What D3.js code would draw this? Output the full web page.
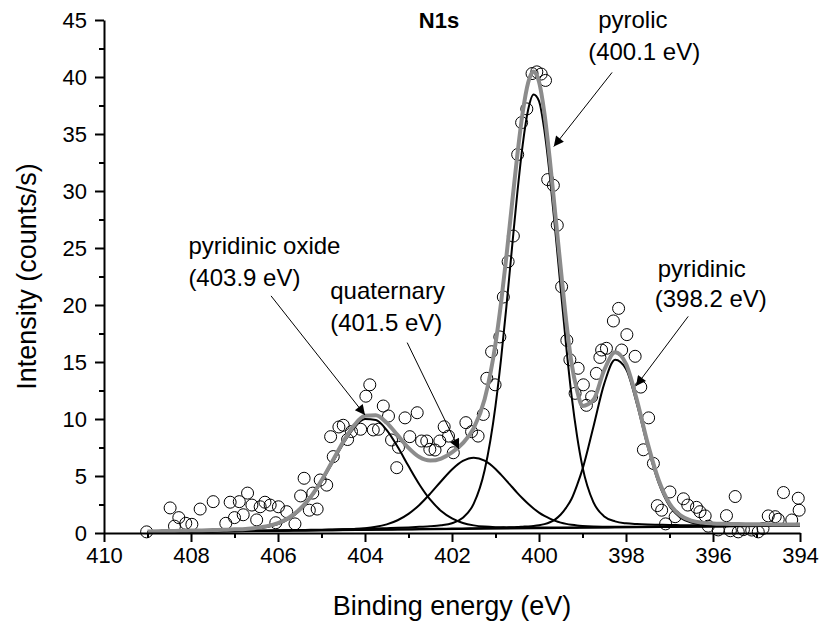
<!DOCTYPE html>
<html>
<head>
<meta charset="utf-8">
<script src="https://cdn.jsdelivr.net/npm/d3@7"></script>
<style>
  html, body { margin: 0; padding: 0; background: #ffffff; }
  svg { display: block; }
  text { font-family: "Liberation Sans", Arial, sans-serif; fill: #000; }
</style>
</head>
<body>
<div id="chart"></div>
<script>
// ---------------- data ----------------
const xTicksMajor = [410, 408, 406, 404, 402, 400, 398, 396, 394];
const xTicksMinor = [409, 407, 405, 403, 401, 399, 397, 395];
const yTicksMajor = [0, 5, 10, 15, 20, 25, 30, 35, 40, 45];
const yTicksMinor = [2.5, 7.5, 12.5, 17.5, 22.5, 27.5, 32.5, 37.5, 42.5];

// fit curves sampled on a binding-energy grid (eV)
const energyGrid = [409, 408.75, 408.5, 408.25, 408, 407.75, 407.5, 407.25, 407, 406.75, 406.5, 406.25, 406,
  405.75, 405.5, 405.25, 405, 404.75, 404.5, 404.25, 404, 403.75, 403.5, 403.25, 403, 402.75, 402.5, 402.25,
  402, 401.75, 401.5, 401.25, 401, 400.875, 400.75, 400.625, 400.5, 400.375, 400.25, 400.125, 400, 399.875,
  399.75, 399.625, 399.5, 399.375, 399.25, 399.125, 399, 398.75, 398.5, 398.25, 398, 397.75, 397.5, 397.25,
  397, 396.75, 396.5, 396.25, 396, 395.75, 395.5, 395.25, 395, 394.75, 394.5, 394.25, 394];

const oxideFit = [0.11, 0.12, 0.13, 0.15, 0.16, 0.18, 0.20, 0.22, 0.25, 0.30, 0.38, 0.52, 0.78,
  1.24, 1.98, 3.06, 4.48, 6.15, 7.84, 9.23, 9.99, 9.92, 9.02, 7.56, 5.87, 4.26, 2.92, 1.93,
  1.28, 0.88, 0.67, 0.56, 0.51, 0.50, 0.49, 0.48, 0.48, 0.48, 0.48, 0.48, 0.48, 0.48,
  0.48, 0.48, 0.49, 0.49, 0.49, 0.49, 0.50, 0.50, 0.51, 0.52, 0.52, 0.53, 0.54, 0.55,
  0.55, 0.56, 0.57, 0.58, 0.59, 0.60, 0.61, 0.62, 0.62, 0.63, 0.64, 0.65, 0.66];

const quaternaryFit = [0.08, 0.09, 0.10, 0.11, 0.12, 0.13, 0.15, 0.16, 0.17, 0.18, 0.19, 0.20, 0.22,
  0.23, 0.24, 0.26, 0.27, 0.29, 0.32, 0.36, 0.42, 0.54, 0.76, 1.12, 1.68, 2.46, 3.45, 4.54,
  5.57, 6.32, 6.61, 6.34, 5.61, 5.12, 4.60, 4.06, 3.52, 3.02, 2.56, 2.15, 1.79, 1.50,
  1.26, 1.06, 0.91, 0.80, 0.72, 0.66, 0.62, 0.57, 0.55, 0.54, 0.54, 0.55, 0.55, 0.56,
  0.56, 0.57, 0.58, 0.59, 0.59, 0.60, 0.61, 0.62, 0.63, 0.63, 0.64, 0.65, 0.66];

const pyrolicFit = [0.09, 0.10, 0.11, 0.12, 0.14, 0.15, 0.16, 0.17, 0.18, 0.19, 0.21, 0.22, 0.23,
  0.25, 0.26, 0.28, 0.29, 0.31, 0.33, 0.35, 0.37, 0.39, 0.42, 0.45, 0.49, 0.54, 0.59, 0.68,
  0.86, 1.33, 2.57, 5.50, 11.16, 15.17, 19.83, 24.84, 29.77, 34.05, 37.12, 38.47, 37.89, 35.30,
  31.30, 26.50, 21.40, 16.40, 12.00, 8.50, 5.80, 2.70, 1.45, 1.02, 0.85, 0.78, 0.74, 0.72,
  0.70, 0.69, 0.68, 0.67, 0.67, 0.67, 0.67, 0.67, 0.67, 0.68, 0.68, 0.69, 0.69];

const pyridinicFit = [0.08, 0.09, 0.10, 0.11, 0.12, 0.13, 0.14, 0.15, 0.16, 0.17, 0.18, 0.19, 0.20,
  0.21, 0.22, 0.23, 0.24, 0.25, 0.26, 0.27, 0.28, 0.30, 0.31, 0.32, 0.33, 0.34, 0.36, 0.37,
  0.39, 0.40, 0.42, 0.44, 0.46, 0.47, 0.49, 0.50, 0.52, 0.55, 0.58, 0.62, 0.68, 0.78,
  0.94, 1.20, 1.62, 2.22, 3.00, 4.20, 5.60, 9.30, 13.10, 15.20, 14.39, 11.32, 7.55, 4.40,
  2.38, 1.35, 0.92, 0.76, 0.71, 0.69, 0.68, 0.68, 0.67, 0.68, 0.68, 0.68, 0.69];

const envelopeFit = [0.14, 0.16, 0.18, 0.19, 0.21, 0.23, 0.26, 0.28, 0.32, 0.36, 0.45, 0.60, 0.87,
  1.34, 2.08, 3.17, 4.61, 6.30, 8.01, 9.44, 10.28, 10.33, 9.66, 8.58, 7.47, 6.66, 6.35, 6.53,
  7.07, 7.88, 9.19, 11.73, 16.60, 20.11, 24.23, 28.70, 33.10, 36.89, 39.50, 40.48, 39.58, 36.80,
  32.70, 27.95, 23.20, 18.60, 14.86, 12.50, 11.14, 11.67, 14.30, 15.85, 14.83, 11.67, 7.84, 4.65,
  2.59, 1.54, 1.09, 0.91, 0.84, 0.81, 0.79, 0.77, 0.76, 0.76, 0.75, 0.75, 0.75];

const baselineEnergy = [409, 394];
const baselineValue = [0.07, 0.65];

// measured points
const pointEnergy = [409.02, 408.48, 408.38, 408.28, 408.12, 407.98, 407.79, 407.49, 407.20, 407.10,
  407.00, 406.89, 406.80, 406.70, 406.60, 406.49, 406.41, 406.30, 406.18, 406.05, 405.99, 405.80,
  405.61, 405.48, 405.40, 405.28, 405.20, 405.10, 405.03, 404.88, 404.79, 404.73, 404.60, 404.50,
  404.40, 404.31, 404.10, 403.98, 403.89, 403.81, 403.69, 403.58, 403.46, 403.39, 403.27, 403.23,
  403.08, 402.97, 402.80, 402.70, 402.58, 402.51, 402.39, 402.28, 402.18, 402.08, 401.97, 401.68,
  401.55, 401.40, 401.28, 401.20, 401.09, 401.01, 400.90, 400.82, 400.71, 400.59, 400.49, 400.40,
  400.28, 400.16, 400.05, 399.95, 399.85, 399.80, 399.67, 399.58, 399.48, 399.36, 399.29, 399.17,
  399.10, 398.98, 398.91, 398.79, 398.68, 398.60, 398.56, 398.45, 398.29, 398.17, 398.10, 397.98,
  397.79, 397.66, 397.60, 397.48, 397.37, 397.28, 397.18, 397.09, 396.99, 396.87, 396.68, 396.58,
  396.38, 396.30, 396.18, 396.11, 395.88, 395.69, 395.60, 395.49, 395.42, 395.30, 395.11, 394.96,
  394.85, 394.73, 394.57, 394.50, 394.38, 394.19, 394.04, 394.02];
const pointIntensity = [0.10, 2.20, 0.60, 1.35, 0.85, 0.76, 2.10, 2.75, 0.85, 2.70,
  1.35, 2.75, 1.60, 3.50, 2.45, 1.15, 2.30, 2.70, 2.45, 0.90, 2.30, 1.87,
  0.80, 3.25, 4.80, 2.00, 3.50, 2.10, 4.65, 4.20, 8.45, 6.70, 9.30, 9.45,
  8.20, 8.90, 9.10, 12.00, 13.00, 9.04, 9.10, 11.14, 10.26, 8.16, 5.73, 7.52,
  10.10, 8.45, 10.55, 8.07, 8.07, 7.34, 7.28, 8.07, 9.32, 8.50, 7.04, 9.68,
  8.89, 8.50, 10.40, 13.57, 15.90, 13.00, 17.20, 20.70, 23.80, 26.05, 33.20, 36.00,
  37.20, 40.30, 40.45, 40.26, 39.70, 31.00, 30.50, 27.00, 21.60, 16.90, 15.20, 12.25,
  14.45, 13.00, 11.20, 11.95, 14.00, 15.40, 16.05, 16.20, 18.60, 19.70, 16.05, 17.40,
  15.50, 12.80, 7.30, 10.10, 6.10, 2.40, 2.00, 0.80, 3.60, 1.43, 3.00, 2.45,
  2.25, 1.87, 1.50, 0.60, 0.27, 1.52, 0.20, 3.20, 0.10, 0.30, 0.26, 0.10,
  0.40, 1.50, 1.43, 1.20, 3.55, 1.14, 3.05, 2.00];

// annotations: label lines, text anchor (eV, counts) and arrow (from -> to) in data units
const annotations = [
  { lines: ["pyrolic", "(400.1 eV)"], textAt: [[398.64, 44.3], [398.87, 41.5]], from: [398.32, 40.4], to: [399.66, 33.9] },
  { lines: ["pyridinic", "(398.2 eV)"], textAt: [[397.27, 22.5], [397.34, 19.8]], from: [396.57, 19.0], to: [397.77, 12.9] },
  { lines: ["quaternary", "(401.5 eV)"], textAt: [[404.8, 20.5], [404.8, 17.7]], from: [403.03, 16.7], to: [401.84, 7.37] },
  { lines: ["pyridinic oxide", "(403.9 eV)"], textAt: [[408.06, 24.5], [408.06, 21.7]], from: [406.16, 20.8], to: [404.0, 10.35] }
];

// ---------------- chart ----------------
const W = 823, H = 626;
const margin = { left: 104, right: 23, top: 20, bottom: 93 };

const svg = d3.select("#chart").append("svg").attr("width", W).attr("height", H);

const x = d3.scaleLinear().domain([410, 394]).range([margin.left, W - margin.right]);
const y = d3.scaleLinear().domain([0, 45]).range([H - margin.bottom, margin.top]);

svg.append("defs").append("marker")
  .attr("id", "arrow").attr("viewBox", "0 0 10 10").attr("refX", 10).attr("refY", 5)
  .attr("markerWidth", 14).attr("markerHeight", 10).attr("markerUnits", "userSpaceOnUse")
  .attr("orient", "auto")
  .append("path").attr("d", "M0,0 L10,5 L0,10 Z").attr("fill", "#000");

// measured points (open circles)
svg.append("g").selectAll("circle")
  .data(pointEnergy.map((e, i) => [e, pointIntensity[i]]))
  .join("circle")
  .attr("cx", d => x(d[0])).attr("cy", d => y(d[1])).attr("r", 6)
  .attr("fill", "none").attr("stroke", "#000").attr("stroke-width", 1);

const line = d3.line().x(d => x(d[0])).y(d => y(d[1])).curve(d3.curveMonotoneX);

// baseline
svg.append("path")
  .attr("d", line(baselineEnergy.map((e, i) => [e, baselineValue[i]])))
  .attr("fill", "none").attr("stroke", "#000").attr("stroke-width", 2);

// components
[oxideFit, quaternaryFit, pyrolicFit, pyridinicFit].forEach(series => {
  svg.append("path")
    .attr("d", line(energyGrid.map((e, i) => [e, series[i]])))
    .attr("fill", "none").attr("stroke", "#000").attr("stroke-width", 2);
});

// envelope
svg.append("path")
  .attr("d", line(energyGrid.map((e, i) => [e, envelopeFit[i]])))
  .attr("fill", "none").attr("stroke", "#8c8c8c").attr("stroke-width", 4)
  .attr("stroke-linejoin", "round");

// axes
const gx = svg.append("g").attr("transform", `translate(0,${y(0)})`);
gx.call(d3.axisBottom(x).tickValues(xTicksMajor).tickSize(9).tickSizeOuter(0).tickPadding(5)
  .tickFormat(d3.format("d")));
const gxm = svg.append("g").attr("transform", `translate(0,${y(0)})`);
gxm.call(d3.axisBottom(x).tickValues(xTicksMinor).tickSize(5).tickSizeOuter(0).tickFormat(""));
gxm.select(".domain").remove();

const gy = svg.append("g").attr("transform", `translate(${x(410)},0)`);
gy.call(d3.axisLeft(y).tickValues(yTicksMajor).tickSize(9).tickSizeOuter(0).tickPadding(8)
  .tickFormat(d3.format("d")));
const gym = svg.append("g").attr("transform", `translate(${x(410)},0)`);
gym.call(d3.axisLeft(y).tickValues(yTicksMinor).tickSize(5).tickSizeOuter(0).tickFormat(""));
gym.select(".domain").remove();

svg.selectAll(".domain").attr("stroke", "#000").attr("stroke-width", 2);
svg.selectAll(".tick line").attr("stroke", "#000").attr("stroke-width", 2);
svg.selectAll(".tick text").attr("font-size", 22).attr("font-family", "Liberation Sans, Arial, sans-serif").attr("fill", "#000");

// axis titles
svg.append("text").attr("x", x(402)).attr("y", 615).attr("text-anchor", "middle")
  .attr("font-size", 27).text("Binding energy (eV)");
svg.append("text").attr("transform", `translate(36,${y(22.5)}) rotate(-90)`)
  .attr("text-anchor", "middle").attr("font-size", 27).text("Intensity (counts/s)");

// title
svg.append("text").attr("x", x(402.3)).attr("y", 28).attr("text-anchor", "middle")
  .attr("font-size", 22).attr("font-weight", "bold").text("N1s");

// annotations
annotations.forEach(a => {
  a.lines.forEach((t, i) => {
    svg.append("text").attr("x", x(a.textAt[i][0])).attr("y", y(a.textAt[i][1]))
      .attr("font-size", 24).text(t);
  });
  svg.append("line")
    .attr("x1", x(a.from[0])).attr("y1", y(a.from[1]))
    .attr("x2", x(a.to[0])).attr("y2", y(a.to[1]))
    .attr("stroke", "#000").attr("stroke-width", 1)
    .attr("marker-end", "url(#arrow)");
});
</script>
</body>
</html>
